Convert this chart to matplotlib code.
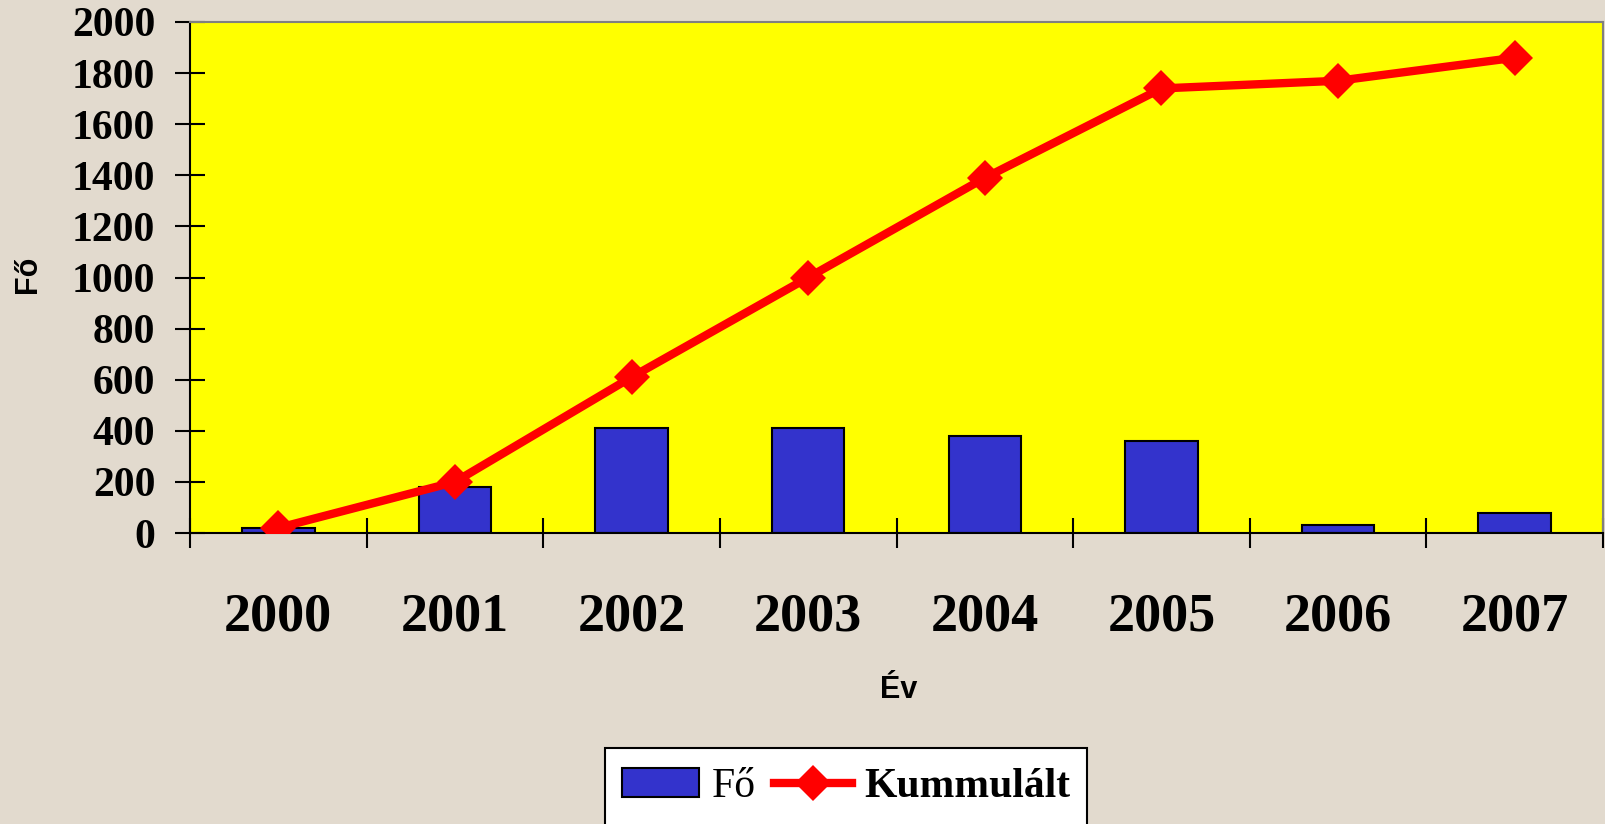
import matplotlib
matplotlib.use("Agg")
import matplotlib.pyplot as plt
import numpy as np
from matplotlib.patches import Rectangle

# data
YEARS = ["2000", "2001", "2002", "2003", "2004", "2005", "2006", "2007"]
FO = [20, 180, 410, 410, 380, 360, 30, 80]  # yearly headcount (bars)
KUMM = [20, 200, 610, 1000, 1390, 1740, 1770, 1860]  # cumulative (line)
YTICKS = list(range(0, 2001, 200))

BG = "#E2DACE"
YELLOW = "#FFFF00"
BLUE = "#3333CC"
RED = "#FF0000"
SERIF = ["Liberation Serif", "DejaVu Serif"]
SANS = ["Liberation Sans", "DejaVu Sans"]
W, H = 1605, 824

fig = plt.figure(figsize=(W / 100, H / 100), dpi=100, facecolor=BG)
ax = fig.add_axes([190 / W, 1 - 533 / H, (1603 - 190) / W, (533 - 22) / H])
ax.set_facecolor(YELLOW)

x = np.arange(len(YEARS))
bars = ax.bar(x, FO, width=0.41, color=BLUE, edgecolor="black", linewidth=1.5,
              label="Fő", zorder=2)
line, = ax.plot(x, KUMM, color=RED, lw=6, marker="D", markersize=18,
                markeredgewidth=0, label="Kummulált", zorder=3)

ax.set_xlim(-0.5, len(YEARS) - 0.5)
ax.set_ylim(0, 2000)

# category axis: tick marks between categories, labels at centers
ax.set_xticks(np.arange(-0.5, len(YEARS), 1.0))
ax.set_xticklabels([])
ax.set_xticks(x, minor=True)
ax.set_xticklabels(YEARS, minor=True, fontsize=39, fontweight="bold", family=SERIF)
ax.tick_params(axis="x", which="major", direction="inout", length=22, width=1.5,
               color="black")
ax.tick_params(axis="x", which="minor", length=0, pad=43)

ax.set_yticks(YTICKS)
ax.set_yticklabels([str(v) for v in YTICKS], fontsize=30, fontweight="bold",
                   family=SERIF)
ax.tick_params(axis="y", direction="inout", length=22, width=1.5, pad=14,
               color="black")

for side in ["left", "bottom"]:
    ax.spines[side].set_color("black")
    ax.spines[side].set_linewidth(1.5)
for side in ["top", "right"]:
    ax.spines[side].set_color("#808080")
    ax.spines[side].set_linewidth(1.5)

fig.text(28 / W, 1 - 274 / H, "Fő", rotation=90, ha="center", va="center",
         fontsize=22, fontweight="bold", family=SANS)
fig.text(899 / W, 1 - 690 / H, "Év", ha="center", va="center",
         fontsize=22, fontweight="bold", family=SANS)

# legend box runs off the bottom edge in the original, so draw it by hand
fig.patches.append(Rectangle((605 / W, -0.05), (1087 - 605) / W, 0.05 + (1 - 748 / H),
                             transform=fig.transFigure, facecolor="white",
                             edgecolor="black", linewidth=1.5, zorder=1))
leg = fig.legend(handles=[bars, line], labels=["Fő", "Kummulált"],
                 loc="center", bbox_to_anchor=(846 / W, 1 - 787 / H),
                 borderaxespad=0, ncol=2, prop={"family": SERIF, "size": 30},
                 frameon=False, handlelength=1.85, handletextpad=0.3,
                 columnspacing=0.45, borderpad=0.3)
leg.set_zorder(2)
leg.get_texts()[1].set_fontweight("bold")

fig.savefig("out.png", dpi=100, facecolor=BG)
